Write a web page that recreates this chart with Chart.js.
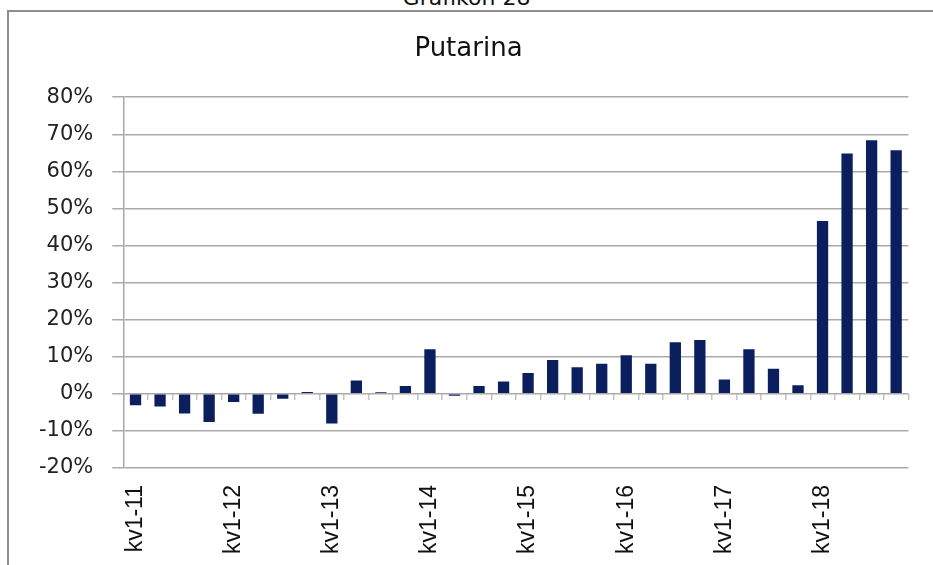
<!DOCTYPE html>
<html lang="hr">
<head>
<meta charset="UTF-8">
<title>Grafikon 28 - Putarina</title>
<script src="https://cdn.jsdelivr.net/npm/chart.js"></script>
<style>
    body {
        margin: 0;
        background: #fff;
        width: 933px;
        height: 565px;
        overflow: hidden;
        position: relative;
    }
    .naslov {
        position: absolute;
        top: -15px;
        left: 0;
        width: 933px;
        text-align: center;
        font-family: 'DejaVu Sans', sans-serif;
        font-size: 22px;
        color: #111;
    }
    .okvir {
        position: absolute;
        left: 7px;
        top: 10px;
        width: 1000px;
        height: 1000px;
        border-left: 2px solid #8e8e8e;
        border-top: 2px solid #8e8e8e;
    }
    #grafikon {
        position: absolute;
        left: 0;
        top: 0;
    }
</style>
</head>
<body>
<div class="naslov">Grafikon 28</div>
<div class="okvir"></div>
<canvas id="grafikon" width="933" height="565"></canvas>

<script>
// Kvartali i godine (kategorije)
const kvartali = ['kv1', 'kv2', 'kv3', 'kv4'];
const godine = ['11', '12', '13', '14', '15', '16', '17', '18'];

// Putarina, godišnja stopa promjene (%)
const putarina = [
    -3.1, -3.4, -5.3, -7.6,
    -2.2, -5.4, -1.3, 0.5,
    -8.0, 3.6, 0.4, 2.1,
    12.0, -0.5, 2.1, 3.3,
    5.6, 9.1, 7.2, 8.1,
    10.4, 8.1, 13.9, 14.5,
    3.9, 12.0, 6.8, 2.3,
    46.6, 64.8, 68.4, 65.7
];

// Oznake osi Y
const yMin = -20;
const yMax = 80;
const yKorak = 10;

// Sve oznake: kv1-11, kv2-11, ...
const oznake = [];
godine.forEach(g => {
    kvartali.forEach(k => oznake.push(`${k}-${g}`));
});

const bojaMreze = '#a9a9a9';

const ctx = document.getElementById('grafikon').getContext('2d');
let chart = new Chart(ctx, {
    type: 'bar',
    data: {
        labels: oznake,
        datasets: [{
            label: 'Putarina',
            data: putarina,
            backgroundColor: '#0b1f5e',
            borderWidth: 0,
            barPercentage: 0.46,
            categoryPercentage: 1.0
        }]
    },
    options: {
        responsive: false,
        animation: false,
        layout: {
            padding: { top: 16, right: 16, bottom: 9, left: 20 }
        },
        plugins: {
            legend: { display: false },
            tooltip: { enabled: false },
            title: {
                display: true,
                text: 'Putarina',
                color: '#111',
                font: { family: 'DejaVu Sans', size: 26, weight: 'normal' },
                padding: { top: 18, bottom: 32 }
            }
        },
        scales: {
            x: {
                grid: { display: false },
                border: { display: false },
                // visina osi ispod grafa
                afterFit: function (scale) {
                    scale.height = 88;
                },
                ticks: {
                    autoSkip: false,
                    minRotation: 90,
                    maxRotation: 90,
                    padding: 9,
                    color: '#111',
                    font: { family: 'Liberation Sans', size: 23 },
                    // prikaži samo prvi kvartal
                    callback: function (value, index) {
                        return index % 4 === 0 ? oznake[index] : '';
                    }
                }
            },
            // crtice kategorija na nultoj liniji
            x2: {
                type: 'category',
                position: { y: 0 },
                offset: true,
                border: { display: false },
                grid: {
                    offset: true,
                    drawOnChartArea: false,
                    drawTicks: true,
                    tickLength: 6,
                    color: '#c4c4c4',
                    lineWidth: 1.5
                },
                ticks: { display: false }
            },
            y: {
                min: yMin,
                max: yMax,
                grid: {
                    color: bojaMreze,
                    lineWidth: 1.5,
                    tickLength: 11
                },
                border: { color: bojaMreze, width: 1.5 },
                ticks: {
                    stepSize: yKorak,
                    padding: 19,
                    color: '#222',
                    font: { family: 'DejaVu Sans', size: 21 },
                    callback: value => value + '%'
                }
            }
        }
    }
});
</script>
</body>
</html>
